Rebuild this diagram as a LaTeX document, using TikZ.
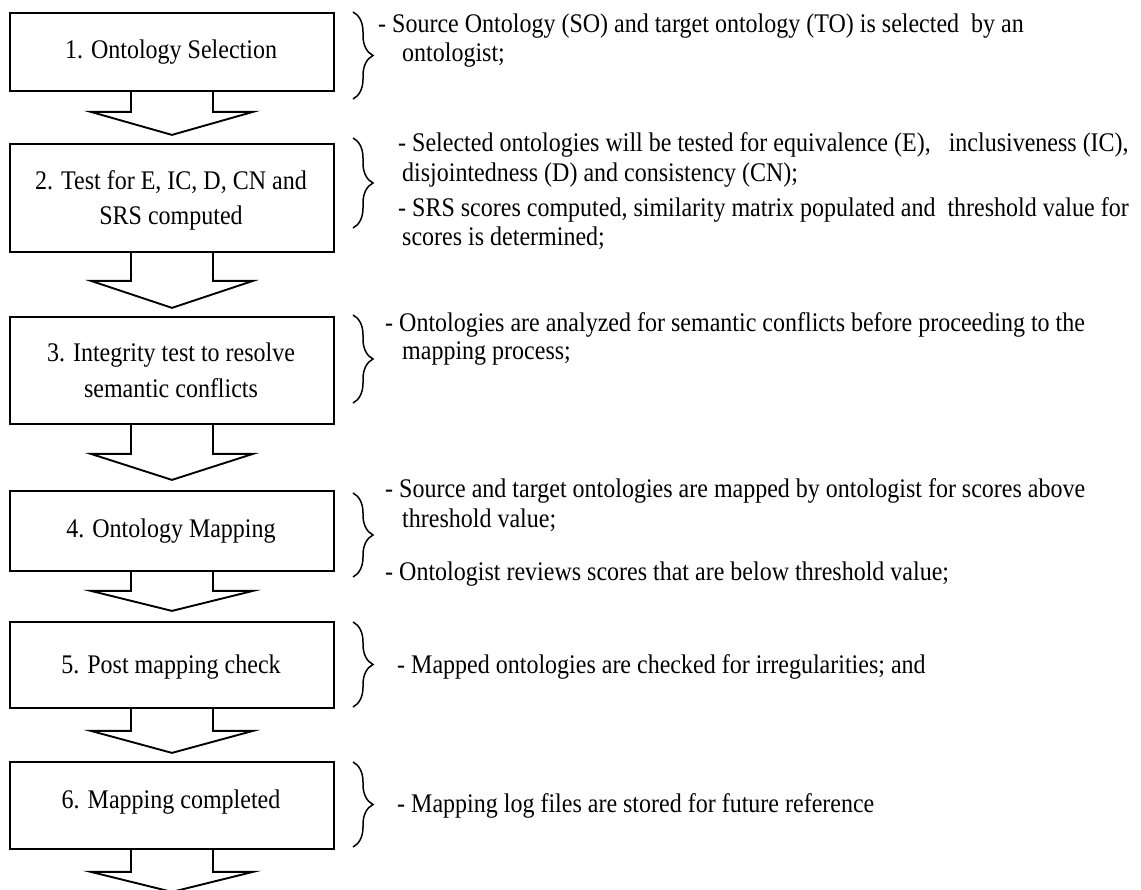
\documentclass[tikz,border=0pt]{standalone}
\usepackage{fontspec}
\setmainfont{Liberation Serif}
\usetikzlibrary{calc,decorations.pathreplacing}
% text is set a little taller than its natural shape
\newcommand\tallText[1]{\scalebox{1}[1.12]{#1}}
% block arrow hanging below a box: #1 node, #2 stem length, #3 head length
\newcommand\flowArrowFrom[3]{%
  \draw[flow] ($(#1.south)+(-41,0)$) -- ++(0,#2) -- ++(-40,0) -- ++(81,#3)
    -- ++(81,-#3) -- ++(-40,0) -- ++(0,-#2);}
\begin{document}
\begin{tikzpicture}[x=1pt,y=-1pt,
  stepbox/.style={draw, line width=1.9pt, minimum width=324pt, anchor=north west, inner sep=0pt},
  boxtext/.style={anchor=base, font=\fontsize{24}{28}\selectfont, inner sep=0pt},
  note/.style={anchor=base west, font=\fontsize{24}{28}\selectfont, inner sep=0pt},
  flow/.style={draw, line width=1.9pt, line join=miter},
  bracket/.style={draw, line width=1.5pt, decorate, decoration={brace, amplitude=20pt}}]
\useasboundingbox (0,0) rectangle (1141,890);

% process steps
\node[stepbox, minimum height=78pt]  (s1) at (9,12)  {};
\node[stepbox, minimum height=108pt] (s2) at (9,143) {};
\node[stepbox, minimum height=107pt] (s3) at (9,316) {};
\node[stepbox, minimum height=80pt]  (s4) at (9,490) {};
\node[stepbox, minimum height=86pt]  (s5) at (9,621) {};
\node[stepbox, minimum height=87pt]  (s6) at (9,761) {};

\node[boxtext] (t1)  at (171,59)  {\tallText{1. Ontology Selection}};
\node[boxtext] (t2a) at (171,190) {\tallText{2. Test for E, IC, D, CN and}};
\node[boxtext] (t2b) at (171,225) {\tallText{SRS computed}};
\node[boxtext] (t3a) at (171,362) {\tallText{3. Integrity test to resolve}};
\node[boxtext] (t3b) at (171,398) {\tallText{semantic conflicts}};
\node[boxtext] (t4)  at (171,537) {\tallText{4. Ontology Mapping}};
\node[boxtext] (t5)  at (171,673) {\tallText{5. Post mapping check}};
\node[boxtext] (t6)  at (171,808) {\tallText{6. Mapping completed}};

% arrows between steps
\flowArrowFrom{s1}{20}{23}
\flowArrowFrom{s2}{28}{27}
\flowArrowFrom{s3}{29}{26}
\flowArrowFrom{s4}{19}{20}
\flowArrowFrom{s5}{22}{22}
\flowArrowFrom{s6}{22}{20}

% braces
\draw[bracket] (353,12)  -- (353,99);
\draw[bracket] (353,138) -- (353,228);
\draw[bracket] (353,315) -- (353,403);
\draw[bracket] (353,493) -- (353,577);
\draw[bracket] (353,622) -- (353,707);
\draw[bracket] (353,762) -- (353,847);

% descriptions
\node[note] (d1a) at (378,33)  {\tallText{- Source Ontology (SO) and target ontology (TO) is selected\ \ by an}};
\node[note] (d1b) at (402,62)  {\tallText{ontologist;}};
\node[note] (d2a) at (398,152) {\tallText{- Selected ontologies will be tested for equivalence (E),\ \ \ inclusiveness (IC),}};
\node[note] (d2b) at (402,182) {\tallText{disjointedness (D) and consistency (CN);}};
\node[note] (d2c) at (398,217) {\tallText{- SRS scores computed, similarity matrix populated and\ \ threshold value for}};
\node[note] (d2d) at (402,246) {\tallText{scores is determined;}};
\node[note] (d3a) at (385,332) {\tallText{- Ontologies are analyzed for semantic conflicts before proceeding to the}};
\node[note] (d3b) at (402,360) {\tallText{mapping process;}};
\node[note] (d4a) at (385,497) {\tallText{- Source and target ontologies are mapped by ontologist for scores above}};
\node[note] (d4b) at (402,527) {\tallText{threshold value;}};
\node[note] (d4c) at (385,580) {\tallText{- Ontologist reviews scores that are below threshold value;}};
\node[note] (d5)  at (397,673) {\tallText{- Mapped ontologies are checked for irregularities; and}};
\node[note] (d6)  at (397,812) {\tallText{- Mapping log files are stored for future reference}};
\end{tikzpicture}
\end{document}
